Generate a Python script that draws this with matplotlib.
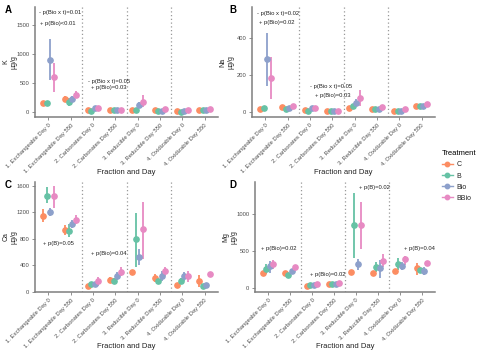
import matplotlib
matplotlib.use("Agg")
import matplotlib.pyplot as plt
from matplotlib.lines import Line2D
import numpy as np

plt.rcParams['font.family'] = ['Liberation Sans', 'DejaVu Sans']

categories = ["1. Exchangeable Day 0", "1. Exchangeable Day 550",
              "2. Carbonates Day 0", "2. Carbonates Day 550",
              "3. Reducible Day 0", "3. Reducible Day 550",
              "4. Oxidizable Day 0", "4. Oxidizable Day 550"]
treatments = ["C", "B", "Bio", "BBio"]
colors = ["#FC8D62", "#66C2A5", "#8DA0CB", "#E78AC3"]

# K (rows: C, B, Bio, BBio)
K_mean = [[160, 220, 30, 30, 40, 35, 10, 40],
          [150, 180, 25, 30, 35, 20, 5, 30],
          [900, 230, 70, 30, 120, 20, 20, 35],
          [600, 300, 70, 35, 170, 50, 30, 45]]
K_lo = [[150, 170, 20, 20, 30, 25, 0, 30],
        [140, 110, 15, 20, 25, 10, 0, 20],
        [550, 190, 40, 20, 70, 10, 10, 25],
        [350, 240, 30, 25, 90, 35, 20, 35]]
K_hi = [[170, 270, 40, 40, 50, 45, 20, 50],
        [160, 250, 35, 40, 45, 30, 10, 40],
        [1260, 280, 100, 40, 170, 30, 30, 45],
        [850, 360, 110, 45, 300, 65, 40, 55]]

# Na
Na_mean = [[15, 25, 10, 3, 20, 18, 3, 30],
           [22, 18, 8, 3, 30, 18, 8, 30],
           [285, 22, 20, 3, 50, 15, 5, 30],
           [185, 32, 22, 5, 75, 25, 15, 45]]
Na_lo = [[10, 20, 5, 1, 15, 13, 0, 25],
         [17, 13, 3, 1, 25, 13, 3, 25],
         [140, 17, 14, 1, 32, 10, 1, 25],
         [70, 26, 10, 2, 30, 20, 8, 40]]
Na_hi = [[20, 30, 15, 5, 25, 23, 6, 35],
         [27, 23, 13, 5, 35, 23, 13, 35],
         [430, 27, 26, 5, 68, 20, 9, 35],
         [300, 38, 35, 8, 120, 30, 22, 50]]

# Ca
Ca_mean = [[1140, 930, 90, 180, 297, 200, 100, 160],
           [1450, 920, 120, 165, 800, 160, 160, 80],
           [1200, 1020, 110, 240, 528, 230, 230, 100],
           [1450, 1080, 155, 300, 946, 310, 230, 260]]
Ca_lo = [[1060, 860, 75, 130, 280, 140, 85, 70],
         [1340, 830, 100, 130, 380, 130, 120, 65],
         [1150, 960, 95, 170, 400, 160, 160, 85],
         [1260, 1020, 80, 230, 500, 240, 140, 220]]
Ca_hi = [[1250, 1010, 105, 220, 315, 260, 115, 250],
         [1580, 1030, 140, 200, 1197, 190, 200, 95],
         [1260, 1090, 125, 300, 650, 320, 300, 115],
         [1600, 1160, 225, 380, 1363, 380, 320, 300]]

# Mg
Mg_mean = [[195, 195, 23, 45, 208, 203, 230, 262],
           [250, 176, 30, 45, 847, 284, 324, 239],
           [293, 226, 36, 55, 316, 262, 293, 228],
           [316, 276, 50, 65, 847, 365, 384, 330]]
Mg_lo = [[180, 180, 15, 35, 190, 185, 215, 172],
         [190, 160, 20, 35, 405, 216, 239, 225],
         [200, 205, 28, 45, 239, 131, 239, 172],
         [250, 260, 40, 55, 523, 276, 307, 310]]
Mg_hi = [[210, 210, 30, 55, 225, 220, 245, 330],
         [320, 192, 40, 55, 1284, 351, 397, 253],
         [360, 247, 45, 65, 384, 374, 351, 284],
         [380, 292, 60, 75, 1158, 451, 428, 350]]

panels = [
    dict(letter="A", name="K", mean=K_mean, lo=K_lo, hi=K_hi,
         ylim=(-86, 1810), ticks=[0, 500, 1000, 1500],
         rect=(35, 7, 218, 117), lx=5,
         notes=[(0.58, 1707, "- p(Bio x t)=0.01"), (0.62, 1517, "+ p(Bio)<0.01"),
                (2.78, 534, "- p(Bio x t)=0.05"), (2.91, 414, "+ p(Bio)=0.03")]),
    dict(letter="B", name="Na", mean=Na_mean, lo=Na_lo, hi=Na_hi,
         ylim=(-27, 568), ticks=[0, 200, 400],
         rect=(252, 7, 435, 117), lx=229,
         notes=[(0.62, 535, "- p(Bio x t)=0.02"), (0.71, 486, "+ p(Bio)=0.02"),
                (3.0, 140, "- p(Bio x t)=0.05"), (3.22, 92, "+ p(Bio)=0.03")]),
    dict(letter="C", name="Ca", mean=Ca_mean, lo=Ca_lo, hi=Ca_hi,
         ylim=(-5, 1660), ticks=[0, 400, 800, 1200, 1600],
         rect=(35, 182, 218, 292), lx=5,
         notes=[(0.76, 725, "+ p(B)=0.05"), (2.91, 574, "+ p(Bio)=0.04")]),
    dict(letter="D", name="Mg", mean=Mg_mean, lo=Mg_lo, hi=Mg_hi,
         ylim=(-58, 1428), ticks=[0, 500, 1000],
         rect=(255, 182, 435, 292), lx=229,
         notes=[(0.67, 536, "+ p(Bio)=0.02"), (2.91, 185, "+ p(Bio)=0.02"),
                (5.15, 1347, "+ p(B)=0.02"), (7.17, 523, "+ p(B)=0.04")]),
]

W, H = 500, 355
fig = plt.figure(figsize=(W / 100, H / 100), dpi=100)
offsets = [-0.24, -0.08, 0.08, 0.24]
x = np.arange(1, len(categories) + 1)
axis_col = "#7f7f7f"
txt_col = "#4d4d4d"

for p in panels:
    l, t, r, b = p["rect"]
    ax = fig.add_axes([l / W, 1 - b / H, (r - l) / W, (b - t) / H])
    for v in [2.5, 4.5, 6.5]:
        ax.axvline(v, color="#999999", lw=0.9, ls=(0, (1, 2)), zorder=0)
    for i, tr in enumerate(treatments):
        m = np.array(p["mean"][i]); lo = np.array(p["lo"][i]); hi = np.array(p["hi"][i])
        ax.errorbar(x + offsets[i], m, yerr=[m - lo, hi - m], fmt='o',
                    color=colors[i], ms=3.8, elinewidth=1.3, capsize=0, zorder=3)
    ax.set_xlim(0.4, 8.6)
    ax.set_ylim(*p["ylim"])
    ax.set_yticks(p["ticks"])
    ax.set_xticks(x)
    ax.set_xticklabels(categories, rotation=45, ha='right', rotation_mode='anchor')
    ax.tick_params(axis='both', labelsize=4.2, colors=axis_col, labelcolor=txt_col,
                   length=2, width=0.6, pad=2)
    for s in ["top", "right"]:
        ax.spines[s].set_visible(False)
    for s in ["left", "bottom"]:
        ax.spines[s].set_color(axis_col)
        ax.spines[s].set_linewidth(1.1)
    for (nx, ny, s) in p["notes"]:
        ax.text(nx, ny, s, fontsize=4.2, color="#222222", ha='left', va='center')
    # labels
    fig.text((l - 25) / W, 1 - ((t + b) / 2) / H, p["name"] + "\nµg/g", rotation=90,
             ha='center', va='center', fontsize=5, color="#222222", linespacing=1.1)
    fig.text(p["lx"] / W, 1 - (t + 3) / H, p["letter"], fontsize=7, fontweight='bold',
             ha='left', va='center')
    fig.text(((l + r) / 2) / W, 1 - (b + 55) / H, "Fraction and Day", fontsize=5.5,
             ha='center', va='center', color="#222222")

handles = [Line2D([0], [0], marker='o', color=c, lw=1, ms=3.2) for c in colors]
leg = fig.legend(handles, treatments, title="Treatment", loc='center left',
                 bbox_to_anchor=(436 / W, 1 - 176 / H), frameon=False,
                 fontsize=5, title_fontsize=5.5, handlelength=1.5,
                 labelspacing=0.6, handletextpad=0.6)
leg._legend_box.align = "left"
for tx in leg.get_texts():
    tx.set_color("#222222")

fig.savefig("out.png", dpi=100)
